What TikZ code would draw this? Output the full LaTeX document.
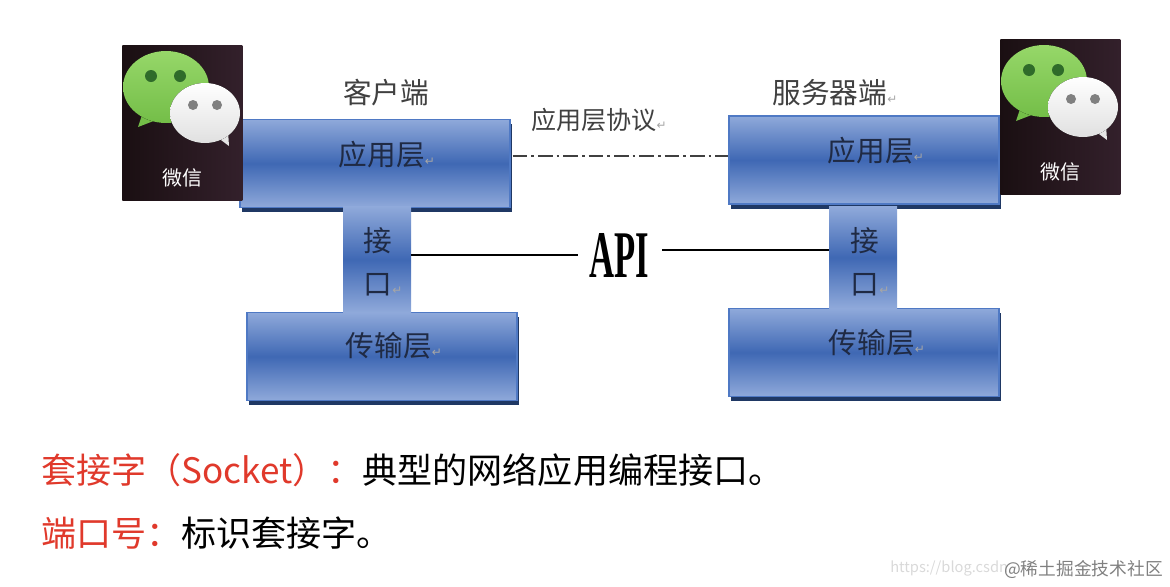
\documentclass[tikz,border=0pt]{standalone}
\usepackage{fontspec}
\setmainfont{Noto Sans CJK SC}
\newfontfamily\apifont{Liberation Serif}
\newfontfamily\retfont{DejaVu Sans}
\usetikzlibrary{shadows}
\definecolor{barlight}{HTML}{8FA9DA}
\definecolor{barmid}{HTML}{3F68B4}
\definecolor{barline}{HTML}{4F79C4}
\definecolor{barshadow}{HTML}{1F3864}
\definecolor{redtext}{HTML}{E0392B}
\definecolor{labeltext}{HTML}{1F2A44}
\definecolor{iconleft}{HTML}{1A0F12}
\definecolor{iconright}{HTML}{33202B}
\definecolor{bubbletop}{HTML}{96D769}
\definecolor{bubblebottom}{HTML}{74BE48}
\definecolor{bubbleeye}{HTML}{2F6B2A}
\newcommand{\retmark}{{\retfont\fontsize{9}{9}\selectfont\textcolor{gray!70}{↵}}}
\tikzset{
  layerbox/.style={draw=barline,line width=1pt,top color=barlight,bottom color=barlight,middle color=barmid,
    minimum width=202.5pt,minimum height=66pt,inner sep=0pt,
    copy shadow={shadow xshift=1.5pt,shadow yshift=-3.5pt,fill=barshadow,draw=none}},
  portbox/.style={top color=barlight,bottom color=barlight,middle color=barmid,
    minimum width=51pt,inner sep=0pt},
  boxlabel/.style={text=labeltext,font=\fontsize{21.5}{32}\selectfont,align=center,inner sep=0pt},
  headlabel/.style={text=black!75,font=\fontsize{21.5}{26}\selectfont,inner sep=0pt},
  wechat/.pic={
    \node (-box) [anchor=north west,left color=iconleft,right color=iconright,
      minimum width=90pt,minimum height=116.25pt,inner sep=0pt] at (0,0) {};
    %% green bubble
    \fill[bubblebottom] (20,70) -- (16,82) -- (42,72) -- cycle;
    \fill[top color=bubbletop,bottom color=bubblebottom] (44,42) ellipse [x radius=43,y radius=36];
    \fill[bubbleeye] (29,31) circle [radius=6];
    \fill[bubbleeye] (58,31) circle [radius=6];
    %% white bubble
    \fill[white!90!black] (95,92) -- (107,101) -- (106,86) -- cycle;
    \fill[top color=white,bottom color=white!88!black] (83,68) ellipse [x radius=35,y radius=30];
    \fill[gray] (71,60) circle [radius=5];
    \fill[gray] (95,60) circle [radius=5];
    \node (-text) [text=white,font=\fontsize{15}{15}\selectfont,inner sep=0pt] at (60,133) {微信};
  }
}
\begin{document}
\begin{tikzpicture}[x=.75pt,y=-.75pt]
  \useasboundingbox (0,0) rectangle (1170,586);

  %% layers
  \node (appClient) [layerbox] at (375,163.5) {};
  \node (appServer) [layerbox] at (864,160) {};
  \node (transClient) [layerbox] at (382,356.5) {};
  \node (transServer) [layerbox] at (864,352.5) {};

  %% interface between layers
  \node (portClient) [portbox,minimum height=79pt] at (377,259.5) {};
  \node (portServer) [portbox,minimum height=76pt] at (863,257.5) {};

  %% icons
  \pic (iconClient) at (122,45) {wechat};
  \pic (iconServer) at (1000,39) {wechat};

  %% box texts
  \node (appClientText) [boxlabel] at (387,155) {应用层\retmark};
  \node (appServerText) [boxlabel] at (876,151) {应用层\retmark};
  \node (transClientText) [boxlabel] at (394,346) {传输层\retmark};
  \node (transServerText) [boxlabel] at (877,343) {传输层\retmark};
  \node (portClientText) [boxlabel] at (378,261.5) {接\\口\rlap{\retmark}};
  \node (portServerText) [boxlabel] at (865,261.5) {接\\口\rlap{\retmark}};

  %% heads
  \node (headClient) [headlabel] at (386,93) {客户端};
  \node (headServer) [headlabel] at (835,93) {服务器端\retmark};
  \node (protoText) [headlabel,font=\fontsize{18.8}{22}\selectfont] at (599,120) {应用层协议\retmark};

  %% protocol line
  \coordinate (protoLine) at (512,156);
  \draw[line width=1pt,black!75,dash pattern=on 11pt off 3pt on 2pt off 3pt]
    (appClient.east |- protoLine) ++(2,0) -- (appServer.west |- protoLine);

  %% API
  \node (apiText) [inner sep=0pt,font=\apifont\bfseries\fontsize{50}{50}\selectfont] at (619,255)
    {\scalebox{.52}[1]{API}};
  \coordinate (apiLeft) at (578,255);
  \coordinate (apiRight) at (662,250);
  \draw[line width=1pt] (portClient.east |- apiLeft) -- (apiLeft);
  \draw[line width=1pt] (apiRight) -- (portServer.west |- apiRight);

  %% bottom lines
  \node (socketLine) [anchor=west,inner sep=0pt,font=\fontsize{26.3}{30}\selectfont] at (41,470)
    {\textcolor{redtext}{套接字（Socket）：}典型的网络应用编程接口。};
  \node (portLine) [anchor=west,inner sep=0pt,font=\fontsize{26.3}{30}\selectfont] at (41,533)
    {\textcolor{redtext}{端口号：}标识套接字。};

  %% marks
  \node (csdnMark) [anchor=west,inner sep=0pt,text=black!15,font=\fontsize{11}{14}\selectfont] at (890,568) {https://blog.csdn};
  \node (juejinMark) [anchor=east,inner sep=0pt,text=black!50,font=\fontsize{13.3}{16}\selectfont] at (1163,569) {@稀土掘金技术社区};
\end{tikzpicture}
\end{document}
